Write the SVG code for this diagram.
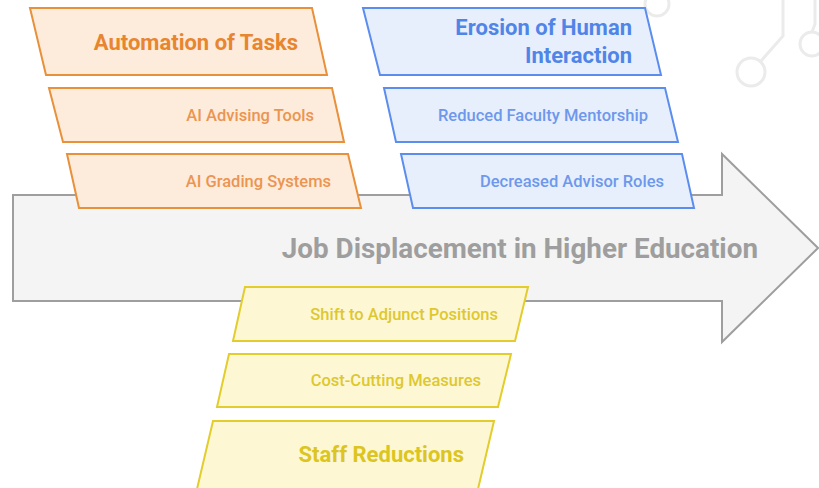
<svg xmlns="http://www.w3.org/2000/svg" width="819" height="488" viewBox="0 0 819 488">
<style>
text{font-family:Roboto,"Liberation Sans",sans-serif;text-anchor:end}
.o{fill:#fdebdc;stroke:#e8903a;stroke-width:2}
.b{fill:#e8effc;stroke:#5b8def;stroke-width:2}
.y{fill:#fdf7d4;stroke:#e2cd2c;stroke-width:2}
.ot{fill:#e8852f}
.bt{fill:#5085e8}
.yt{fill:#dcc520}
.os{fill:#eb9550}
.bs{fill:#6d98ec}
.ys{fill:#ddc830}
.h{font-size:22px;font-weight:700}
.s{font-size:16.5px;font-weight:500}
.wm{fill:none;stroke:#ebebeb;stroke-width:3}
</style>
<rect width="819" height="488" fill="#ffffff"/>
<g id="watermark" class="wm">
<circle cx="657" cy="4" r="12"/>
<circle cx="751" cy="72" r="14"/>
<path d="M761 61 L783 36 L783 0"/>
<circle cx="812" cy="44" r="12"/>
<path d="M812 32 L815 24 L815 0"/>
</g>
<g id="main-arrow">
<polygon points="13,195 722,195 722,154 818,248 722,342 722,301 13,301" fill="#f4f4f4" stroke="#9e9e9e" stroke-width="2"/>
<text x="758" y="258" font-size="27.8" font-weight="700" fill="#9e9e9e">Job Displacement in Higher Education</text>
</g>
<g id="connectors"></g>
<g id="automation">
<polygon class="o" points="30,8 312,8 327,75 46,75"/>
<text class="ot h" x="298" y="50">Automation of Tasks</text>
</g>
<g id="ai-advising">
<polygon class="o" points="49,88 332,88 344,142 63,142"/>
<text class="os s" x="314" y="121">AI Advising Tools</text>
</g>
<g id="ai-grading">
<polygon class="o" points="67,154 348,154 361,208 79,208"/>
<text class="os s" x="331" y="187">AI Grading Systems</text>
</g>
<g id="erosion">
<polygon class="b" points="363,8 645,8 661,75 380,75"/>
<text class="bt h" x="632" y="35">Erosion of Human</text>
<text class="bt h" x="632" y="63">Interaction</text>
</g>
<g id="mentorship">
<polygon class="b" points="384,88 665,88 678,142 396,142"/>
<text class="bs s" x="648" y="121">Reduced Faculty Mentorship</text>
</g>
<g id="advisor">
<polygon class="b" points="401,154 682,154 694,208 413,208"/>
<text class="bs s" x="664" y="187">Decreased Advisor Roles</text>
</g>
<g id="adjunct">
<polygon class="y" points="245,287 528,287 515,341 233,341"/>
<text class="ys s" x="498" y="320">Shift to Adjunct Positions</text>
</g>
<g id="cost-cutting">
<polygon class="y" points="229,354 511,354 498,407 217,407"/>
<text class="ys s" x="481" y="386">Cost-Cutting Measures</text>
</g>
<g id="staff">
<polygon class="y" points="213,421 494,421 478,489 197,489"/>
<text class="yt h" x="464" y="462">Staff Reductions</text>
</g>
</svg>
